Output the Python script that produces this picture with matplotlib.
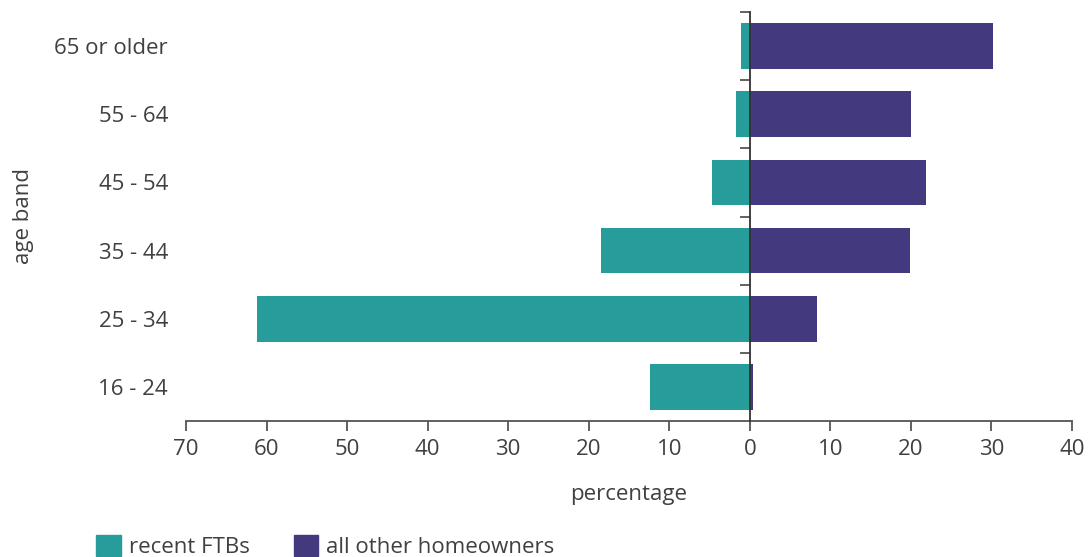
import matplotlib
matplotlib.use("Agg")
import matplotlib.pyplot as plt
from matplotlib.patches import Patch
import numpy as np

categories = ["65 or older", "55 - 64", "45 - 54", "35 - 44", "25 - 34", "16 - 24"]
recent_ftbs = [1.1, 1.7, 4.7, 18.5, 61.2, 12.4]
other_homeowners = [30.2, 20.0, 21.9, 19.9, 8.3, 0.4]
x_ticks = [-70, -60, -50, -40, -30, -20, -10, 0, 10, 20, 30, 40]
x_tick_labels = ["70", "60", "50", "40", "30", "20", "10", "0", "10", "20", "30", "40"]

TEAL = "#269c9b"
PURPLE = "#43397e"
TXT = "#404040"
AX = "#555555"

plt.rcParams['font.family'] = ['Open Sans', 'DejaVu Sans']

fig = plt.figure(figsize=(10.92, 5.57), dpi=100)
pos = [186/1092, 1 - 421/557, (1072 - 186)/1092, (421 - 12)/557]
ax = fig.add_axes(pos)

y = np.arange(len(categories))
ax.barh(y, [-v for v in recent_ftbs], height=0.67, color=TEAL, zorder=2)
ax.barh(y, other_homeowners, height=0.67, color=PURPLE, zorder=2)

xlim = (-70, 40)
ylim = (len(categories) - 0.5, -0.5)
ax.set_xlim(*xlim)
ax.set_ylim(*ylim)
ax.set_xticks(x_ticks)
ax.set_xticklabels(x_tick_labels)
ax.set_yticks(y)
ax.set_yticklabels(categories)

for s in ["top", "right", "left"]:
    ax.spines[s].set_visible(False)
ax.spines["bottom"].set_color(AX)
ax.spines["bottom"].set_linewidth(1.3)
ax.tick_params(axis="x", direction="out", length=7, width=1.3, color=AX,
               labelsize=16, labelcolor=TXT, pad=6)
ax.tick_params(axis="y", length=0, labelsize=16, labelcolor=TXT, pad=13)

# zero axis with ticks at category boundaries (overlay axes)
ax2 = fig.add_axes(pos)
ax2.patch.set_visible(False)
ax2.set_xlim(*xlim)
ax2.set_ylim(*ylim)
for s in ["top", "right", "bottom"]:
    ax2.spines[s].set_visible(False)
ax2.spines["left"].set_position(("data", 0))
ax2.spines["left"].set_color("#333333")
ax2.spines["left"].set_linewidth(1.3)
ax2.set_xticks([])
ax2.set_yticks(np.arange(-0.5, len(categories) - 0.5, 1.0))
ax2.tick_params(axis="y", direction="out", length=7, width=1.3, color=AX,
                labelleft=False)

ax.set_xlabel("percentage", fontsize=16, color=TXT, labelpad=17)
ax.set_ylabel("age band", fontsize=16, color=TXT)
ax.yaxis.set_label_coords(-0.172, 0.5)

handles = [Patch(color=TEAL, label="recent FTBs"),
           Patch(color=PURPLE, label="all other homeowners")]
fig.legend(handles=handles, loc="lower left", bbox_to_anchor=(0.070, -0.038),
           ncol=2, frameon=False, fontsize=16, labelcolor=TXT,
           handlelength=1.1, handleheight=1.1, handletextpad=0.35, columnspacing=2.0)

fig.savefig("out.png", dpi=100)
